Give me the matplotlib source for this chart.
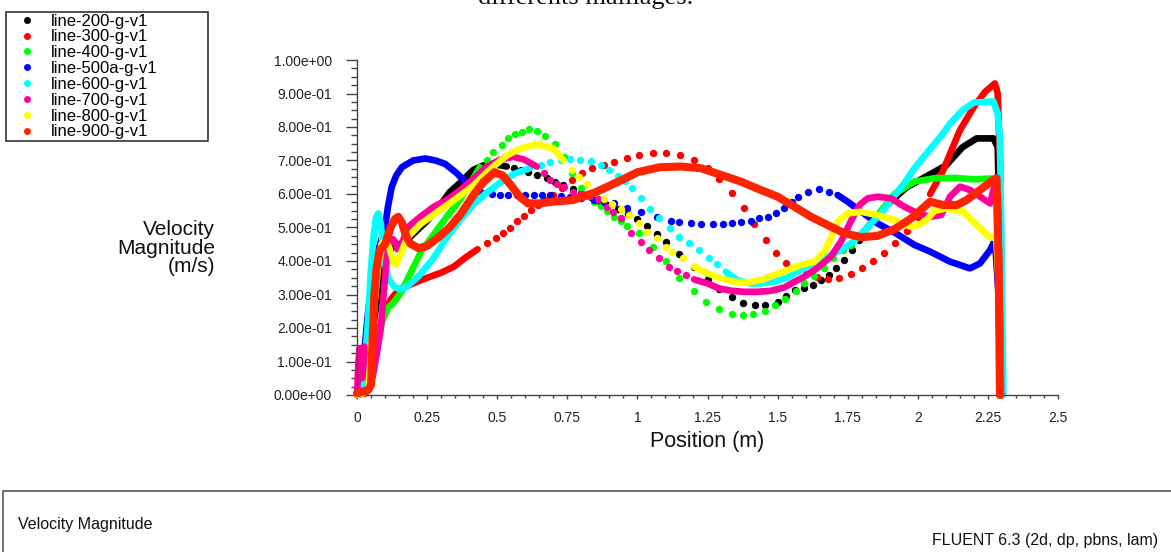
import numpy as np
import matplotlib
matplotlib.use('Agg')
import matplotlib.pyplot as plt
from matplotlib.ticker import MultipleLocator, FuncFormatter
from matplotlib.lines import Line2D
from matplotlib.patches import Rectangle

plt.rcParams['font.family'] = ['Liberation Sans', 'DejaVu Sans']

# Профили скорости вдоль линий (позиция, м / скорость, м/с)
pos_200 = [0.0, 0.02, 0.04, 0.06, 0.08, 0.1, 0.125, 0.15, 0.17, 0.2, 0.25, 0.3, 0.33, 0.37, 0.415, 0.45, 0.48, 0.51, 0.534,
           0.56, 0.585, 0.611, 0.641, 0.676, 0.705, 0.735, 0.77, 0.8, 0.833, 0.86, 0.89, 0.93, 0.965, 1.0, 1.035, 1.07,
           1.101, 1.149, 1.202, 1.25, 1.292, 1.337, 1.375, 1.419, 1.455, 1.5, 1.53, 1.562, 1.595, 1.625, 1.655, 1.685,
           1.708, 1.738, 1.765, 1.792, 1.82, 1.86, 1.9, 1.96, 2.04, 2.1, 2.16, 2.21, 2.27, 2.285, 2.292, 2.298]
vel_200 = [0.0, 0.02, 0.1, 0.22, 0.33, 0.4, 0.44, 0.45, 0.455, 0.48, 0.52, 0.57, 0.605, 0.635, 0.672, 0.685, 0.688, 0.686, 0.682,
           0.677, 0.672, 0.667, 0.657, 0.647, 0.637, 0.627, 0.615, 0.603, 0.592, 0.58, 0.568, 0.555, 0.54, 0.525, 0.505, 0.48,
           0.458, 0.421, 0.383, 0.345, 0.315, 0.293, 0.275, 0.269, 0.269, 0.277, 0.295, 0.313, 0.318, 0.328, 0.343, 0.358,
           0.378, 0.403, 0.433, 0.463, 0.5, 0.54, 0.575, 0.62, 0.657, 0.685, 0.74, 0.766, 0.766, 0.74, 0.5, 0.0]

pos_300 = [0.0, 0.03, 0.045, 0.06, 0.075, 0.09, 0.1, 0.12, 0.15, 0.2, 0.25, 0.3, 0.345, 0.39, 0.43,
           0.464, 0.494, 0.52, 0.545, 0.57, 0.595, 0.62, 0.645, 0.67, 0.7, 0.73, 0.768, 0.804, 0.839, 0.881, 0.917, 0.964,
           1.006, 1.054, 1.101, 1.151, 1.202, 1.25, 1.292, 1.337, 1.381, 1.417, 1.458, 1.494, 1.53, 1.565, 1.6, 1.64, 1.68,
           1.72, 1.76, 1.8, 1.84, 1.88, 1.92, 1.96, 2.0, 2.044, 2.09, 2.12, 2.15, 2.2, 2.24, 2.275, 2.285, 2.293, 2.298, 2.3]
vel_300 = [0.0, 0.005, 0.02, 0.1, 0.18, 0.23, 0.25, 0.285, 0.315, 0.333, 0.35, 0.365, 0.383, 0.412, 0.435,
           0.455, 0.47, 0.485, 0.5, 0.518, 0.535, 0.552, 0.567, 0.582, 0.597, 0.617, 0.642, 0.662, 0.677, 0.687, 0.697, 0.706,
           0.716, 0.721, 0.721, 0.716, 0.701, 0.677, 0.644, 0.602, 0.557, 0.51, 0.463, 0.425, 0.395, 0.375, 0.36, 0.352, 0.347,
           0.35, 0.362, 0.38, 0.4, 0.425, 0.455, 0.49, 0.53, 0.6, 0.67, 0.73, 0.79, 0.86, 0.905, 0.93, 0.9, 0.7, 0.4, 0.0]

pos_400 = [0.0, 0.03, 0.05, 0.07, 0.09, 0.11, 0.13, 0.16, 0.18, 0.23, 0.27, 0.32, 0.36, 0.4, 0.438,
           0.462, 0.486, 0.516, 0.54, 0.565, 0.59, 0.614, 0.643, 0.67, 0.706, 0.738, 0.768, 0.798, 0.822, 0.845, 0.869, 0.893,
           0.917, 0.94, 0.964, 1.006, 1.054, 1.101, 1.149, 1.202, 1.245, 1.292, 1.336, 1.375, 1.414, 1.455, 1.49, 1.525, 1.565,
           1.595, 1.631, 1.667, 1.696, 1.732, 1.762, 1.8, 1.85, 1.917, 1.988, 2.06, 2.13, 2.2, 2.265, 2.283, 2.292, 2.298]
vel_400 = [0.0, 0.01, 0.06, 0.15, 0.22, 0.26, 0.275, 0.31, 0.345, 0.43, 0.475, 0.532, 0.575, 0.625, 0.68,
           0.701, 0.726, 0.746, 0.766, 0.778, 0.786, 0.793, 0.788, 0.774, 0.748, 0.711, 0.662, 0.617, 0.595, 0.577, 0.565, 0.55,
           0.532, 0.52, 0.505, 0.483, 0.443, 0.401, 0.35, 0.311, 0.279, 0.256, 0.242, 0.239, 0.242, 0.251, 0.268, 0.287, 0.311,
           0.333, 0.355, 0.38, 0.41, 0.433, 0.448, 0.48, 0.53, 0.6, 0.637, 0.647, 0.648, 0.644, 0.646, 0.62, 0.4, 0.0]

pos_500a = [0.0, 0.015, 0.025, 0.04, 0.055, 0.075, 0.1, 0.11, 0.124, 0.14, 0.16, 0.2, 0.243, 0.28, 0.314, 0.356, 0.403, 0.45,
            0.48, 0.51, 0.54, 0.57, 0.6, 0.63, 0.66, 0.69, 0.726, 0.76, 0.8, 0.845, 0.88, 0.917, 0.964, 1.012, 1.07, 1.12,
            1.149, 1.19, 1.226, 1.268, 1.304, 1.337, 1.37, 1.405, 1.435, 1.464, 1.494, 1.524, 1.55, 1.571, 1.607, 1.649, 1.685,
            1.714, 1.75, 1.798, 1.857, 1.917, 1.988, 2.044, 2.115, 2.186, 2.222, 2.258, 2.275, 2.288, 2.295]
vel_500a = [0.0, 0.05, 0.12, 0.25, 0.35, 0.43, 0.5, 0.56, 0.622, 0.655, 0.68, 0.7, 0.706, 0.7, 0.69, 0.662, 0.622, 0.602,
            0.599, 0.598, 0.598, 0.598, 0.598, 0.598, 0.598, 0.597, 0.594, 0.59, 0.587, 0.582, 0.577, 0.572, 0.559, 0.547, 0.532,
            0.52, 0.517, 0.514, 0.51, 0.51, 0.511, 0.514, 0.516, 0.52, 0.527, 0.532, 0.544, 0.557, 0.575, 0.592, 0.607, 0.614,
            0.607, 0.597, 0.577, 0.547, 0.512, 0.485, 0.448, 0.428, 0.398, 0.378, 0.393, 0.433, 0.463, 0.3, 0.0]

pos_600 = [0.0, 0.017, 0.03, 0.04, 0.05, 0.06, 0.068, 0.076, 0.085, 0.092, 0.1, 0.113, 0.135, 0.155, 0.18, 0.22, 0.27, 0.32,
           0.37, 0.417, 0.464, 0.512, 0.56, 0.617, 0.655, 0.69, 0.726, 0.76, 0.795, 0.833, 0.869, 0.9, 0.93, 0.955, 0.982,
           1.012, 1.045, 1.077, 1.115, 1.149, 1.185, 1.22, 1.256, 1.285, 1.315, 1.357, 1.405, 1.44, 1.488, 1.536, 1.571, 1.607,
           1.643, 1.679, 1.726, 1.774, 1.821, 1.869, 1.917, 1.95, 1.988, 2.04, 2.08, 2.12, 2.16, 2.2, 2.27, 2.285, 2.293, 2.296,
           2.3, 2.305]
vel_600 = [0.0, 0.03, 0.12, 0.23, 0.38, 0.48, 0.53, 0.542, 0.51, 0.45, 0.39, 0.345, 0.322, 0.315, 0.325, 0.355, 0.405, 0.47,
           0.525, 0.57, 0.605, 0.635, 0.66, 0.677, 0.687, 0.697, 0.701, 0.703, 0.701, 0.698, 0.687, 0.672, 0.655, 0.64, 0.617,
           0.587, 0.555, 0.527, 0.498, 0.473, 0.453, 0.433, 0.408, 0.39, 0.368, 0.343, 0.333, 0.333, 0.338, 0.351, 0.368, 0.385,
           0.398, 0.413, 0.433, 0.46, 0.502, 0.542, 0.595, 0.63, 0.677, 0.73, 0.77, 0.815, 0.85, 0.873, 0.876, 0.84, 0.77, 0.6,
           0.3, 0.0]

pos_700 = [0.0, 0.005, 0.01, 0.015, 0.02, 0.025, 0.03, 0.04, 0.055, 0.07, 0.085, 0.095, 0.105, 0.115, 0.128, 0.138, 0.145,
           0.16, 0.18, 0.226, 0.274, 0.32, 0.369, 0.417, 0.464, 0.512, 0.557, 0.595, 0.641,
           0.666, 0.69, 0.715, 0.74, 0.77, 0.8, 0.83, 0.86, 0.89, 0.912, 0.94, 0.976, 1.012, 1.042, 1.077, 1.113, 1.143, 1.175,
           1.202, 1.25, 1.292, 1.337, 1.381, 1.429, 1.476, 1.524, 1.56, 1.595, 1.643, 1.69, 1.726, 1.762, 1.792, 1.821, 1.857,
           1.905, 1.952, 2.0, 2.044, 2.083, 2.115, 2.151, 2.186, 2.222, 2.258, 2.275, 2.285, 2.292, 2.297]
vel_700 = [0.0, 0.1, 0.14, 0.05, 0.13, 0.145, 0.08, 0.04, 0.05, 0.12, 0.2, 0.3, 0.4, 0.45, 0.465, 0.455, 0.435,
           0.45, 0.5, 0.532, 0.562, 0.582, 0.612, 0.647, 0.682, 0.703, 0.711, 0.703, 0.682,
           0.662, 0.642, 0.63, 0.62, 0.606, 0.6, 0.594, 0.585, 0.56, 0.547, 0.527, 0.485, 0.458, 0.433, 0.408, 0.383, 0.37, 0.358,
           0.345, 0.333, 0.318, 0.311, 0.308, 0.308, 0.311, 0.321, 0.338, 0.353, 0.38, 0.413, 0.458, 0.52, 0.567, 0.587, 0.592,
           0.587, 0.562, 0.542, 0.532, 0.537, 0.592, 0.622, 0.612, 0.592, 0.572, 0.63, 0.6, 0.3, 0.0]

pos_800 = [0.0, 0.02, 0.04, 0.05, 0.06, 0.075, 0.087, 0.1, 0.115, 0.13, 0.14, 0.155, 0.18, 0.226, 0.26, 0.296, 0.36, 0.415,
           0.47, 0.534, 0.58, 0.641, 0.7, 0.736, 0.766, 0.79, 0.82, 0.85, 0.88, 0.91, 0.94, 0.97, 1.006, 1.036, 1.071, 1.101,
           1.125, 1.161, 1.202, 1.25, 1.298, 1.345, 1.393, 1.44, 1.488, 1.536, 1.583, 1.631, 1.667, 1.69, 1.714, 1.75, 1.798,
           1.857, 1.917, 1.976, 2.012, 2.036, 2.06, 2.1, 2.162, 2.21, 2.258, 2.28, 2.29, 2.296]
vel_800 = [0.0, 0.005, 0.02, 0.12, 0.25, 0.38, 0.45, 0.46, 0.44, 0.395, 0.39, 0.42, 0.47, 0.51, 0.53, 0.552, 0.59, 0.625,
           0.67, 0.715, 0.735, 0.749, 0.736, 0.701, 0.672, 0.652, 0.63, 0.605, 0.585, 0.57, 0.555, 0.537, 0.512, 0.488, 0.468,
           0.443, 0.428, 0.408, 0.383, 0.363, 0.348, 0.338, 0.336, 0.343, 0.358, 0.373, 0.388, 0.398, 0.428, 0.468, 0.517, 0.542,
           0.547, 0.537, 0.522, 0.502, 0.51, 0.527, 0.55, 0.557, 0.547, 0.507, 0.47, 0.47, 0.3, 0.0]

pos_900 = [0.0, 0.02, 0.04, 0.05, 0.055, 0.062, 0.07, 0.08, 0.1, 0.12, 0.135, 0.147, 0.16, 0.175, 0.19, 0.22, 0.25, 0.29,
           0.33, 0.37, 0.41, 0.45, 0.49, 0.52, 0.55, 0.58, 0.61, 0.65, 0.7, 0.77, 0.85, 0.94, 1.0, 1.08, 1.155, 1.226, 1.298,
           1.369, 1.44, 1.5, 1.56, 1.619, 1.679, 1.738, 1.798, 1.857, 1.917, 1.976, 2.044, 2.09, 2.139, 2.174, 2.222, 2.269,
           2.281, 2.288, 2.293]
vel_900 = [0.005, 0.01, 0.015, 0.03, 0.15, 0.3, 0.38, 0.43, 0.45, 0.5, 0.525, 0.532, 0.515, 0.475, 0.452, 0.438, 0.445, 0.47,
           0.5, 0.54, 0.59, 0.635, 0.665, 0.655, 0.625, 0.592, 0.572, 0.572, 0.577, 0.582, 0.605, 0.64, 0.665, 0.68, 0.682, 0.677,
           0.657, 0.637, 0.612, 0.592, 0.562, 0.532, 0.507, 0.483, 0.471, 0.475, 0.495, 0.527, 0.577, 0.567, 0.567, 0.582, 0.612,
           0.642, 0.647, 0.4, 0.0]

labels = ['line-200-g-v1', 'line-300-g-v1', 'line-400-g-v1', 'line-500a-g-v1',
          'line-600-g-v1', 'line-700-g-v1', 'line-800-g-v1', 'line-900-g-v1']
colors = ['#000000', '#ff0000', '#00ff00', '#0000ff', '#00ffff', '#ff0099', '#ffff00', '#ff2400']
# участки, где узлы сетки редкие и видны отдельные точки
sparse_ranges = [(0.55, 1.80), (0.45, 2.02), (0.45, 1.78), (0.46, 1.70),
                 (0.64, 1.30), (0.65, 1.19), (0.75, 1.18), None]

profiles = [(pos_200, vel_200), (pos_300, vel_300), (pos_400, vel_400), (pos_500a, vel_500a),
            (pos_600, vel_600), (pos_700, vel_700), (pos_800, vel_800), (pos_900, vel_900)]


def draw_profile(ax, pos, vel, color, sparse, lw, ms, z):
    pos = np.asarray(pos, dtype=float)
    vel = np.asarray(vel, dtype=float)
    if sparse is None:
        dots = np.zeros(pos.size, dtype=bool)
    else:
        dots = (pos > sparse[0]) & (pos < sparse[1])
    # плотные участки — сплошная "цепочка" точек
    ax.plot(pos, np.where(dots, np.nan, vel), color=color, lw=lw,
            solid_capstyle='round', solid_joinstyle='round', zorder=z, clip_on=False)
    # редкие участки — отдельные точки
    ax.plot(pos[dots], vel[dots], 'o', color=color, ms=ms, mew=0, zorder=z, clip_on=False)


W, H = 1171, 552
fig = plt.figure(figsize=(W / 100, H / 100), dpi=100)
ax = fig.add_axes([357 / W, 1 - 395 / H, (1058 - 357) / W, (395 - 60) / H])

for i, ((p, v), c, s) in enumerate(zip(profiles, colors, sparse_ranges)):
    lw = 5.8 if i == 7 else 4.8
    draw_profile(ax, p, v, c, s, lw=lw, ms=5.3, z=2 + 0.1 * i)

ax.set_xlim(0, 2.5)
ax.set_ylim(0, 1.0)
for side in ['top', 'right']:
    ax.spines[side].set_visible(False)
for side in ['left', 'bottom']:
    ax.spines[side].set_color('#444444')
    ax.spines[side].set_linewidth(1.0)

ax.xaxis.set_major_locator(MultipleLocator(0.25))
ax.xaxis.set_minor_locator(MultipleLocator(0.05))
ax.yaxis.set_major_locator(MultipleLocator(0.1))
ax.yaxis.set_minor_locator(MultipleLocator(0.025))
ax.xaxis.set_major_formatter(FuncFormatter(lambda v, p: f'{v:g}'))
ax.yaxis.set_major_formatter(FuncFormatter(lambda v, p: f'{v:.2e}'))

ax.tick_params(axis='y', which='major', direction='out', length=8, width=1, color='#444444',
               labelsize=10, labelcolor='#222222', pad=10)
ax.tick_params(axis='y', which='minor', direction='out', length=4.3, width=1, color='#444444')
ax.tick_params(axis='x', which='major', direction='out', length=3, width=1, color='#444444',
               labelsize=10, labelcolor='#222222', pad=8.5)
ax.tick_params(axis='x', which='minor', direction='out', length=2, width=1, color='#444444')

fig.text(215 / W, 1 - 248 / H, 'Velocity\nMagnitude\n(m/s)', ha='right', va='center',
         multialignment='right', fontsize=15, linespacing=0.97, color='#111111')
fig.text(707 / W, 1 - 442 / H, 'Position (m)', ha='center', va='center', fontsize=15.5, color='#111111')

# легенда
handles = [Line2D([], [], marker='o', ls='', ms=5.0, mew=0, color=c) for c in colors]
leg = fig.legend(handles, labels, loc='upper left',
                 bbox_to_anchor=(6 / W, 1 - 139 / H, 202 / W, 127 / H), mode='expand',
                 borderaxespad=0, borderpad=0.1, handlelength=2.3, handletextpad=0.3,
                 labelspacing=0.05, fontsize=12, fancybox=False, framealpha=1)
leg.get_frame().set_edgecolor('#333333')
leg.get_frame().set_linewidth(1.2)

# обрезанный заголовок сверху
fig.text(586 / W, 1 - 4 / H, 'différents maillages.', ha='center', va='baseline',
         fontsize=19, family='Liberation Serif', color='#111111')

# нижняя рамка Fluent
fig.patches.append(Rectangle((3 / W, -0.02), 1.2, (552 - 491) / H + 0.02, transform=fig.transFigure,
                             fill=False, edgecolor='#555555', linewidth=1.2))
fig.text(18 / W, 1 - 524 / H, 'Velocity Magnitude', ha='left', va='center', fontsize=11.5, color='#111111')
fig.text(1158 / W, 1 - 540 / H, 'FLUENT 6.3 (2d, dp, pbns, lam)', ha='right', va='center',
         fontsize=11.5, color='#111111')

fig.savefig('out.png', dpi=100)
